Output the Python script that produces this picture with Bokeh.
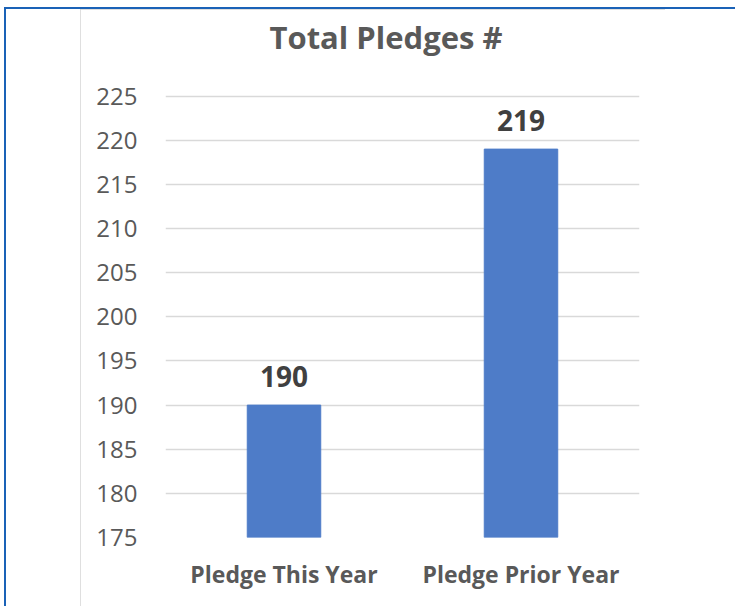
from bokeh.plotting import figure
from bokeh.models import Range1d, FactorRange, ColumnDataSource, FixedTicker, Title
from bokeh.embed import file_html
from bokeh.resources import INLINE
from bokeh.core.properties import value

categories = ["Pledge This Year", "Pledge Prior Year"]
pledges = [190, 219]
y_ticks = [175, 180, 185, 190, 195, 200, 205, 210, 215, 220, 225]
title_text = "Total Pledges #"

W, H = 585, 597
FONT = "Open Sans"
GRAY = "#595959"
BLUE = "#1A62B7"

src = ColumnDataSource(dict(cat=categories, val=pledges, label=[str(v) for v in pledges]))

p = figure(x_range=FactorRange(*categories, range_padding=0),
           y_range=Range1d(y_ticks[0], y_ticks[-1] + 0.3),
           width=W, height=H, output_backend="svg", toolbar_location=None,
           min_border_left=85, min_border_right=26,
           min_border_top=84, min_border_bottom=69)
p.margin = (9, 0, 0, 80)
p.styles = {
    "outline": "1.5px solid #D4D4D4",
    "outline-offset": "-1.5px",
    "box-shadow": ("-74px 0 0 0 #FFFFFF, 110px 0 0 0 #FFFFFF, "
                   f"-76px -2px 0 0 {BLUE}, 80px -2px 0 0 {BLUE}, -76px 0 0 0 {BLUE}"),
}

p.vbar(x="cat", top="val", bottom=y_ticks[0], width=0.31, color="#4E7CC8", source=src)
p.text(x="cat", y="val", text="label", source=src, y_offset=-29,
       text_align="center", text_baseline="middle",
       text_font=value(FONT), text_font_style="bold", text_font_size="28px",
       text_color="#404040")

p.outline_line_color = None
p.xgrid.visible = False
p.ygrid.ticker = FixedTicker(ticks=y_ticks)
p.ygrid.grid_line_color = "#D9D9D9"
p.ygrid.grid_line_width = 1.5

p.yaxis.ticker = FixedTicker(ticks=y_ticks)
for ax in (p.xaxis[0], p.yaxis[0]):
    ax.axis_line_color = None
    ax.major_tick_line_color = None
    ax.minor_tick_line_color = None
    ax.major_label_text_font = FONT
    ax.major_label_text_color = GRAY
p.yaxis.major_label_text_font_size = "24px"
p.yaxis.major_label_standoff = 22
p.xaxis.major_label_text_font_size = "23px"
p.xaxis.major_label_text_font_style = "bold"
p.xaxis.major_label_standoff = 14

p.title.text = title_text
p.title.text_font = FONT
p.title.text_font_style = "bold"
p.title.text_font_size = "31px"
p.title.text_color = GRAY
p.title.align = "left"
p.title.offset = 104
p.title.standoff = 0

# blank spacer between the title and the plot frame
p.add_layout(Title(text=" ", text_font_size="2px", standoff=32), "above")

open("out.html", "w").write(file_html(p, INLINE))
